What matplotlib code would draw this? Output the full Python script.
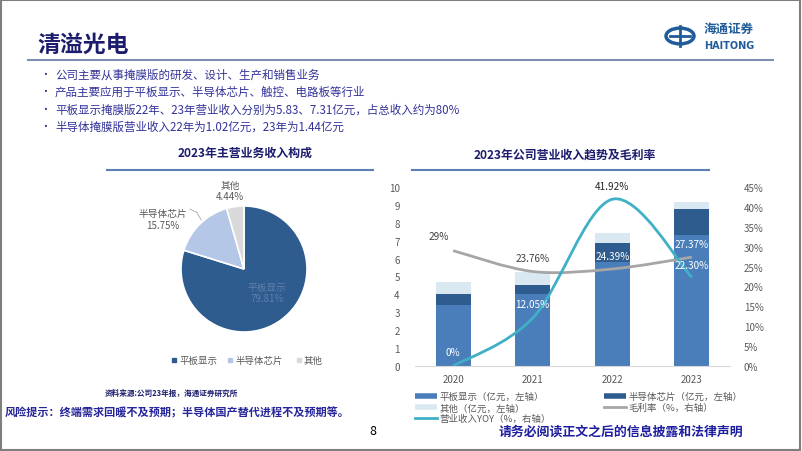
import numpy as np
import matplotlib
matplotlib.use("Agg")
import matplotlib.pyplot as plt
from matplotlib.path import Path
from matplotlib.patches import PathPatch, Rectangle, Circle
from matplotlib.lines import Line2D

plt.rcParams['font.family'] = ['Noto Sans CJK SC', 'DejaVu Sans']

# 数据
years = ['2020', '2021', '2022', '2023']
flat_rev = [3.40, 4.00, 5.83, 7.31]      # 平板显示（亿元）
semi_rev = [0.62, 0.54, 1.02, 1.44]      # 半导体芯片（亿元）
other_rev = [0.69, 0.69, 0.60, 0.40]     # 其他（亿元）
gross_margin = [29.00, 23.76, 24.39, 27.37]   # 毛利率（%）
rev_yoy = [0.00, 12.05, 41.92, 22.30]         # 营业收入YOY（%）

pie_labels = ['平板显示', '半导体芯片', '其他']
pie_values = [79.81, 15.75, 4.44]

bullets = [
    '公司主要从事掩膜版的研发、设计、生产和销售业务',
    '产品主要应用于平板显示、半导体芯片、触控、电路板等行业',
    '平板显示掩膜版22年、23年营业收入分别为5.83、7.31亿元，占总收入约为80%',
    '半导体掩膜版营业收入22年为1.02亿元，23年为1.44亿元',
]

# 颜色
c_flat = '#4A7EBB'
c_semi = '#2F5C8F'
c_other = '#DAE8F2'
c_gm = '#A6A6A6'
c_yoy = '#3FB0C6'
navy = '#1C1C6E'
txt_gray = '#595959'

W, H = 802, 452
fig = plt.figure(figsize=(W / 100, H / 100), dpi=100)


def box(x0, y0, x1, y1):
    # 像素坐标(左上原点) -> figure 坐标
    return [x0 / W, 1 - y1 / H, (x1 - x0) / W, (y1 - y0) / H]


def fx(x):
    return x / W


def fy(y):
    return 1 - y / H


# 外框
fig.patches.append(Rectangle((0.001, 0.002), 0.997, 0.995, transform=fig.transFigure,
                             fill=False, ec='#7F7F7F', lw=1.5))

# 标题
fig.text(fx(37), fy(45), '清溢光电', fontsize=16.5, fontweight='bold', color=navy, va='center')
fig.add_artist(Line2D([fx(28), fx(773)], [fy(61), fy(61)], color='#7F8FB0', lw=1.5))

# logo
fig.patches.append(Circle((fx(680), fy(37)), 14 / W, transform=fig.transFigure,
                          fill=False, ec='#1F5C99', lw=2.5))
fig.add_artist(Line2D([fx(670), fx(690)], [fy(37), fy(37)], color='#1F5C99', lw=2))
fig.add_artist(Line2D([fx(680), fx(680)], [fy(27), fy(47)], color='#1F5C99', lw=2))
fig.text(fx(729), fy(29), '海通证券', fontsize=9, color='#1F5C99', ha='center', va='center',
         fontweight='bold')
fig.text(fx(729), fy(46), 'HAITONG', fontsize=7, color='#1F5C99', ha='center', va='center',
         fontweight='bold', family='DejaVu Sans')

# 要点
for i, b in enumerate(bullets):
    y = 75 + i * 17.5
    fig.text(fx(40), fy(y), '•', fontsize=7, color=navy, va='center')
    fig.text(fx(55), fy(y), b, fontsize=8.3, color='#33339A', va='center')

# 饼图
fig.text(fx(245), fy(153), '2023年主营业务收入构成', fontsize=8.6, fontweight='bold',
         color=navy, ha='center', va='center')
fig.add_artist(Line2D([fx(107), fx(373)], [fy(171), fy(171)], color='#5B7DB8', lw=1.5))

r = 63
axp = fig.add_axes(box(244 - 2.5 * r / 2, 270 - 2.5 * r / 2, 244 + 2.5 * r / 2, 270 + 2.5 * r / 2))
axp.pie(pie_values, colors=[c_semi, '#B4C7E7', '#D9D9D9'], startangle=90, counterclock=False,
        wedgeprops=dict(edgecolor='white', linewidth=1.2))
axp.text(0.37, -0.37, f'{pie_labels[0]}\n{pie_values[0]:.2f}%', ha='center', va='center',
         fontsize=7, color='#5F7FAA', linespacing=1.2, zorder=5)
axp.text(-1.29, 0.79, f'{pie_labels[1]}\n{pie_values[1]:.2f}%', ha='center', va='center',
         fontsize=7, color=txt_gray, linespacing=1.2)
axp.text(-0.22, 1.25, f'{pie_labels[2]}\n{pie_values[2]:.2f}%', ha='center', va='center',
         fontsize=7, color=txt_gray, linespacing=1.2)
axp.plot([-0.86, -0.75, -0.68], [0.95, 0.90, 0.78], color='#A6A6A6', lw=0.6)

# 饼图图例
lx = [172, 228, 297]
for name, col, x in zip(pie_labels, [c_semi, '#B4C7E7', '#D9D9D9'], lx):
    fig.patches.append(Rectangle((fx(x), fy(363)), 4 / W, 4 / H, transform=fig.transFigure,
                                 color=col))
    fig.text(fx(x + 7), fy(361), name, fontsize=6.8, color=txt_gray, va='center')

# 柱状图
fig.text(fx(565), fy(155), '2023年公司营业收入趋势及毛利率', fontsize=8.6, fontweight='bold',
         color=navy, ha='center', va='center')
fig.add_artist(Line2D([fx(412), fx(709)], [fy(171), fy(171)], color='#5B7DB8', lw=1.5))

ax = fig.add_axes(box(415, 188, 730, 367))
x = np.arange(len(years))
bw = 0.44
flat = np.array(flat_rev)
semi = np.array(semi_rev)
other = np.array(other_rev)
ax.bar(x, flat, bw, color=c_flat, zorder=2)
ax.bar(x, semi, bw, bottom=flat, color=c_semi, zorder=2)
ax.bar(x, other, bw, bottom=flat + semi, color=c_other, zorder=2)
ax.set_xlim(-0.48, 3.48)
ax.set_ylim(0, 10)
ax.set_yticks(np.arange(0, 11, 1))
ax.set_xticks(x)
ax.set_xticklabels(years)
for s in ['top', 'right', 'left']:
    ax.spines[s].set_visible(False)
ax.spines['bottom'].set_color('#D9D9D9')
ax.tick_params(axis='both', length=0, labelsize=7, colors=txt_gray, pad=6)
ax.tick_params(axis='y', pad=11)

ax2 = ax.twinx()
ax2.set_ylim(0, 45)
ax2.set_yticks(np.arange(0, 46, 5))
ax2.set_yticklabels([f'{v}%' for v in range(0, 46, 5)])
for s in ax2.spines.values():
    s.set_visible(False)
ax2.tick_params(axis='y', length=0, labelsize=7, colors=txt_gray, pad=10)


def smooth_path(xs, ys):
    # 平滑曲线（贝塞尔，类似Excel平滑线）
    xs = np.asarray(xs, float)
    ys = np.asarray(ys, float)
    n = len(xs)
    verts = [(xs[0], ys[0])]
    codes = [Path.MOVETO]
    for i in range(n - 1):
        i0 = max(i - 1, 0)
        i3 = min(i + 2, n - 1)
        c1 = (xs[i] + (xs[i + 1] - xs[i0]) / 6, ys[i] + (ys[i + 1] - ys[i0]) / 6)
        c2 = (xs[i + 1] - (xs[i3] - xs[i]) / 6, ys[i + 1] - (ys[i3] - ys[i]) / 6)
        verts += [c1, c2, (xs[i + 1], ys[i + 1])]
        codes += [Path.CURVE4] * 3
    return Path(verts, codes)


ax2.add_patch(PathPatch(smooth_path(x, gross_margin), fill=False, ec=c_gm, lw=2, zorder=3))
ax2.add_patch(PathPatch(smooth_path(x, rev_yoy), fill=False, ec=c_yoy, lw=2, zorder=4))

# 数据标签
gm_off = [3.7, 3.4, 3.2, 3.2]
gm_col = ['#404040', '#404040', 'white', 'white']
for i, v in enumerate(gross_margin):
    lab = f'{v:.0f}%' if v == int(v) else f'{v:.2f}%'
    ax2.text(x[i] - (0.18 if i == 0 else 0), v + gm_off[i], lab, ha='center', va='center',
             fontsize=7.2, color=gm_col[i], zorder=6)
yoy_pos = [3.5, 15.6, 45.2, 25.4]
yoy_col = ['white', 'white', '#262626', 'white']
for i, v in enumerate(rev_yoy):
    lab = f'{v:.0f}%' if v == int(v) else f'{v:.2f}%'
    ax2.text(x[i], yoy_pos[i], lab, ha='center', va='center', fontsize=7.2, color=yoy_col[i],
             zorder=6)

# 图例
handles = [
    Line2D([], [], color=c_flat, lw=4, solid_capstyle='butt'),
    Line2D([], [], color=c_other, lw=4, solid_capstyle='butt'),
    Line2D([], [], color=c_yoy, lw=2),
    Line2D([], [], color=c_semi, lw=4, solid_capstyle='butt'),
    Line2D([], [], color=c_gm, lw=2),
]
labels = ['平板显示（亿元，左轴）', '其他（亿元，左轴）', '营业收入YOY（%，右轴）',
          '半导体芯片（亿元，左轴）', '毛利率（%，右轴）']
leg = fig.legend(handles, labels, loc='upper left', bbox_to_anchor=(fx(415), fy(393)),
                 ncol=2, frameon=False, fontsize=6.8, handlelength=2.3, handletextpad=0.3,
                 labelspacing=0.2, columnspacing=5.6, borderpad=0, borderaxespad=0)
for t in leg.get_texts():
    t.set_color(txt_gray)

# 页脚
fig.text(fx(171), fy(393), '资料来源:公司23年报，海通证券研究所', fontsize=5.5, fontweight='bold',
         color=navy, ha='center', va='center')
fig.text(fx(5), fy(413), '风险提示：终端需求回暖不及预期；半导体国产替代进程不及预期等。', fontsize=8,
         fontweight='bold', color='#26269A', va='center')
fig.text(fx(373), fy(432), '8', fontsize=9, color='black', ha='center', va='center')
fig.text(fx(621), fy(432), '请务必阅读正文之后的信息披露和法律声明', fontsize=9.3, fontweight='bold',
         color='#1E1EA0', ha='center', va='center')

fig.savefig('out.png', dpi=100)
